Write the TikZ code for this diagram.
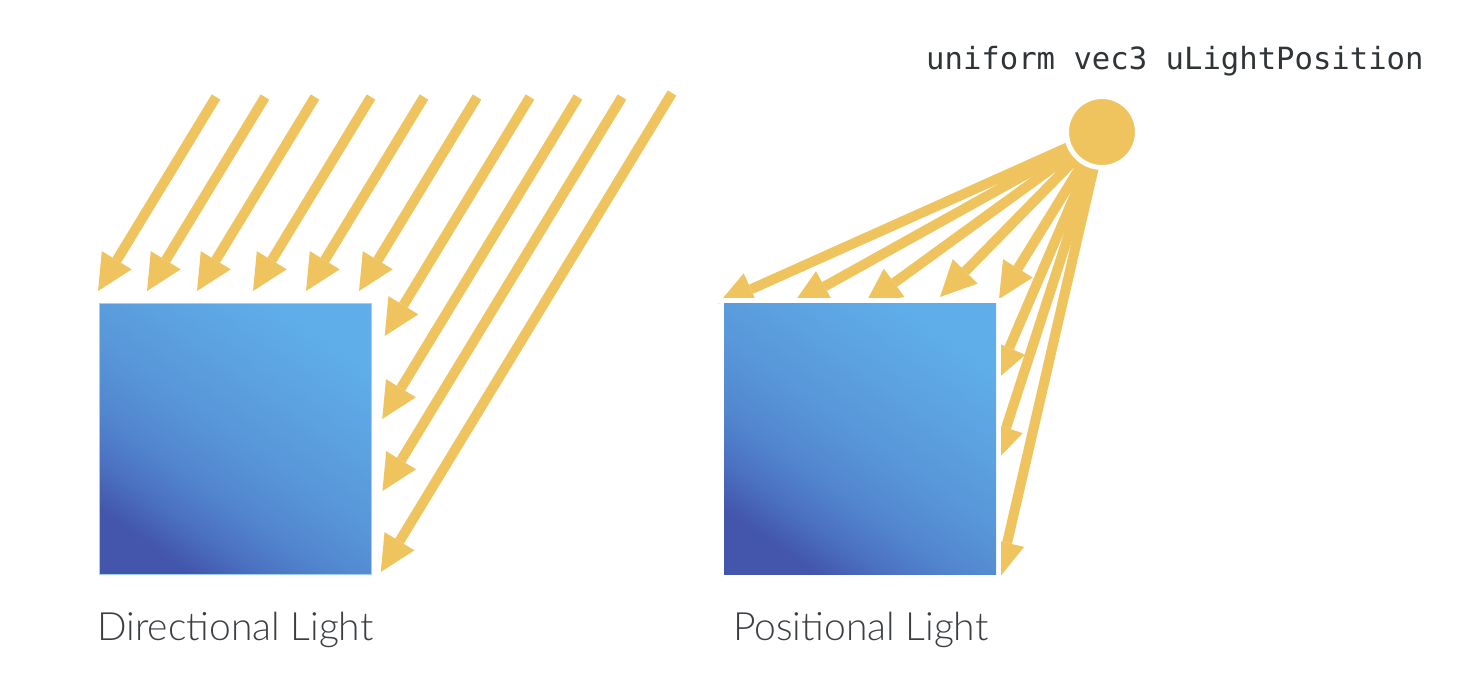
\documentclass[tikz,border=0pt]{standalone}
\usepackage{fontspec}
\usetikzlibrary{arrows.meta, calc, positioning}
\newfontfamily\labelfont{Lato}[UprightFont={* Light}]
\newfontfamily\codefont{DejaVu Sans Mono}
\definecolor{rayyellow}{HTML}{EFC45F}
\definecolor{cubedark}{HTML}{4356AB}
\definecolor{cubedeep}{HTML}{4B70C0}
\definecolor{cubelow}{HTML}{5286CE}
\definecolor{cubemid}{HTML}{5896D8}
\definecolor{cubehigh}{HTML}{5CA2E1}
\definecolor{cubelight}{HTML}{5FAEE9}
\definecolor{labelgray}{HTML}{3B3E43}
\definecolor{codegray}{HTML}{2F3437}
\pgfdeclareverticalshading{cubeshade}{100bp}{color(0bp)=(cubedark);
  color(25bp)=(cubedark); color(32bp)=(cubedeep); color(40bp)=(cubelow);
  color(50bp)=(cubemid); color(62bp)=(cubehigh); color(75bp)=(cubelight);
  color(100bp)=(cubelight)}

\begin{document}
\begin{tikzpicture}[
  x=1pt, y=-1pt,
  ray/.style={-{Triangle[length=36pt, width=35pt, line width=0pt]},
    line width=10pt, rayyellow},
  cube/.style={rectangle, inner sep=0pt, outer sep=0pt,
    minimum width=272pt, minimum height=271pt,
    shade, shading=cubeshade, shading angle=-35},
  caption/.style={font=\labelfont\fontsize{39}{42}\selectfont,
    text=labelgray, anchor=base west, inner sep=0pt}
]
\useasboundingbox (0,0) rectangle (1468,674);

% directional light: parallel rays
\node[cube, draw=cubelight!60!white, line width=1pt] (dirbox) at (235,438.5) {};
\foreach \i/\sx/\sy/\ey in {1/216/97/291, 2/265/97/291, 3/315/97/291,
    4/371/97/291, 5/424/97/291, 6/477/97/291, 7/530/97/336,
    8/578/97/419, 9/622/97/491, 10/672/93/572} {
  \coordinate (dsrc-\i) at (\sx,\sy);
  \coordinate (dhit-\i) at ({\sx-0.608*(\ey-\sy)},\ey);
  \draw[ray] (dsrc-\i) -- (dhit-\i);
}

% positional light: rays fanning out from the lamp
\coordinate (lampc) at (1102,132);
\foreach \i/\ex/\ey in {1/718/304, 2/793/304, 3/865/304, 4/940/297,
    5/999/299, 6/995/381, 7/995/462, 8/999/578} {
  \coordinate (phit-\i) at (\ex,\ey);
  \draw[ray] (lampc) -- (phit-\i);
}
\draw[white, line width=12pt] (725,304) rectangle (995,573);
\node[cube] (posbox) at (860,438.5) {};
\node[circle, fill=rayyellow, draw=white, line width=5pt,
  minimum size=71pt, inner sep=0pt] (lamp) at (lampc) {};

% texts
\node[font=\codefont\fontsize{30.6}{34}\selectfont, text=codegray,
  anchor=base west, inner sep=0pt] (uniform) at (926,70)
  {uniform vec3 uLightPosition};
\node[caption] (dircap) at (97,640) {Directional Light};
\node[caption] (poscap) at (733,640) {Positional Light};

\end{tikzpicture}
\end{document}
